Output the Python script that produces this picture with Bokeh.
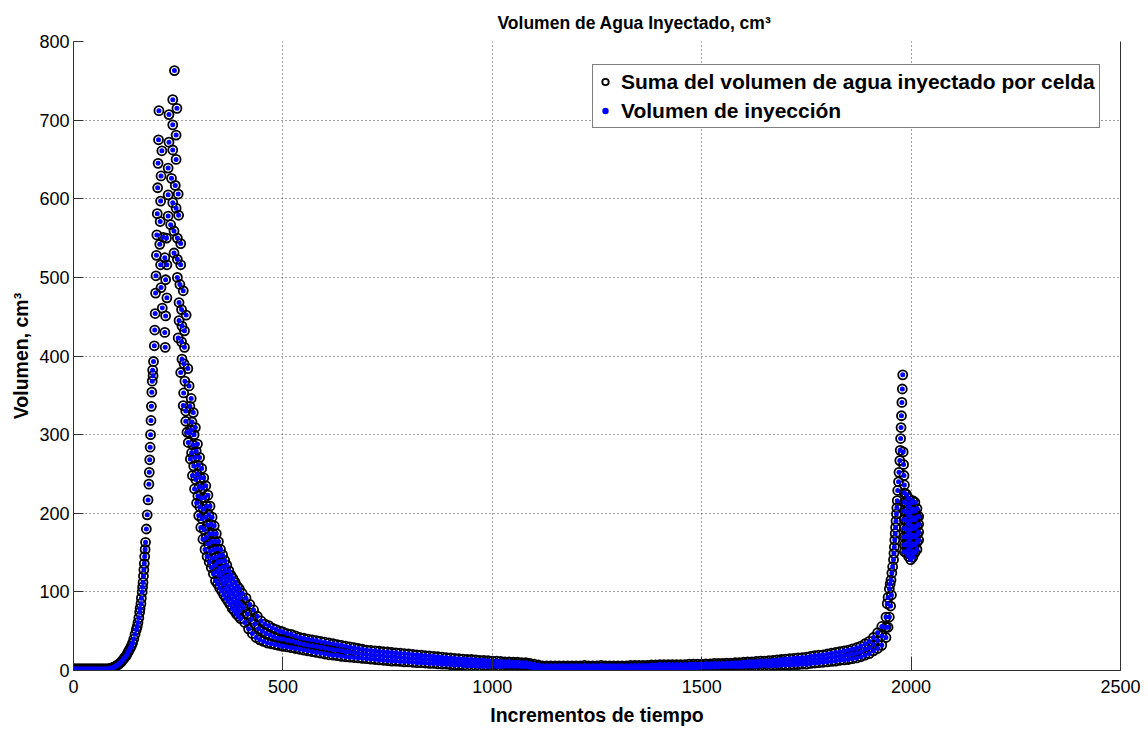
from bokeh.plotting import figure
from bokeh.models import Range1d, LinearAxis, Legend, LegendItem, FixedTicker
from bokeh.embed import file_html
from bokeh.resources import INLINE

# ---------------- data ----------------
subida_x = [0, 6, 12, 18, 24, 30, 36, 42, 48, 54, 60, 66, 72, 78, 84, 90, 96, 102, 108, 114,
            120, 126, 132, 138, 144, 150, 154, 158, 161, 164, 166, 168, 170, 172, 174, 176, 178,
            180, 181, 182, 183, 184, 185, 186, 187, 188, 189]
subida_y = [2, 2, 2, 2, 2, 2, 2, 2, 2, 2, 2, 2, 2, 2, 2, 3, 4, 6, 8, 11,
            15, 19, 25, 31, 40, 52, 61, 74, 85, 100, 112, 128, 145, 163, 180, 198, 217,
            237, 252, 268, 284, 300, 318, 336, 354, 368, 382]
subida2_x = [3, 9, 15, 21, 27, 33, 39, 45, 51, 57, 63, 69, 75, 81, 87, 93, 99, 105, 111,
             117, 123, 129, 135, 141, 147, 152, 156, 159, 162, 165, 167, 169, 171]
subida2_y = [2, 2, 2, 2, 2, 2, 2, 2, 2, 2, 2, 2, 2, 2, 2.5, 3.5, 5, 7, 9.5,
             13, 17, 22, 28, 35, 46, 56, 67, 79, 92, 106, 120, 136, 154]

pico_x = [190, 191, 193, 194, 195, 196, 197, 198, 199, 200, 201, 202, 203, 204,
          206, 207, 208, 209, 211, 208, 209, 212, 220, 218, 219,
          214, 218, 223, 220, 223, 226, 226, 228, 228, 226, 222,
          241, 237, 247, 237, 245, 237, 245, 234, 243, 250, 237, 245, 251, 232, 240, 248,
          256, 240, 248, 256, 248, 254, 262, 252, 258, 269, 252, 259, 265, 250, 258, 265,
          259, 264, 273, 256]
pico_y = [375, 393, 413, 433, 454, 480, 502, 528, 554, 581, 614, 645, 675, 712,
          542, 571, 597, 629, 661, 516, 487, 461, 451, 430, 411,
          551, 525, 516, 497, 474, 605, 639, 672, 707, 578, 550,
          763, 726, 715, 694, 681, 662, 650, 626, 617, 606, 595, 588, 579, 567, 559, 550,
          543, 531, 523, 516, 500, 491, 483, 468, 459, 452, 445, 438, 432, 423, 418, 411,
          396, 390, 384, 379]

caida_x = [262, 263, 266, 268, 268, 271, 274,
           276, 278, 280, 282, 284, 286, 288, 290, 292, 294, 296, 298, 300, 302, 304, 306,
           308, 310, 312, 314, 316, 318, 320, 322, 324, 326, 328, 330, 332, 334, 336, 338,
           340, 342, 344, 346, 348, 350, 352, 354, 356, 358, 360, 362, 364, 366, 368, 370,
           372, 374, 376, 378, 380, 382, 384, 386, 388, 390, 392, 394, 396, 398, 400,
           403, 406, 409, 412, 415, 418, 421, 424, 427, 430, 433, 436, 439, 442, 445, 448,
           451, 454, 457, 460, 463, 466, 469, 472, 475, 478, 481, 484, 487, 490, 493, 496, 499]
caida_y = [337, 353, 368, 330, 317, 303, 290,
           362, 336, 306, 277, 248, 328, 300, 271, 243, 213, 288, 261, 234, 208, 182, 257,
           232, 205, 179, 154, 235, 209, 185, 161, 138, 209, 186, 164, 143, 123, 184, 164,
           144, 126, 110, 164, 146, 130, 115, 101, 147, 132, 118, 104, 92, 134, 120, 107,
           96, 84, 121, 109, 98, 87, 76, 112, 101, 89, 79, 69, 104, 93, 83,
           98, 80, 61, 92, 72, 53, 84, 65, 47, 77, 59, 42, 69, 53, 39, 63,
           50, 37, 59, 47, 35, 57, 45, 34, 54, 43, 33, 52, 41, 32, 50, 40, 31]

caida2_x = [277, 279, 281, 283, 285, 287, 289, 291, 293, 295, 297, 299, 301, 303, 305, 307,
            309, 311, 313, 315, 317, 319, 321, 323, 325, 327, 329, 331, 333, 335, 337, 339,
            341, 343, 345, 347, 349, 351, 353, 355, 357, 359, 361, 363, 365, 367, 369, 371,
            373, 375, 377, 379, 381, 383, 385, 387, 389, 391, 393, 395, 397, 399]
caida2_y = [302, 269, 346, 316, 287, 260, 231, 309, 279, 250, 222, 197, 271, 245, 219, 193,
            167, 245, 220, 195, 169, 145, 223, 198, 174, 152, 131, 195, 174, 154, 134, 114,
            174, 155, 138, 121, 105, 154, 139, 124, 110, 96, 140, 127, 113, 100, 88, 127,
            114, 102, 91, 79, 117, 105, 94, 83, 72, 107, 97, 86, 76, 66]

cola_x = [500, 510, 520, 530, 540, 550, 560, 570, 580, 590,
          600, 610, 620, 630, 640, 650, 660, 670, 680, 690,
          700, 710, 720, 730, 740, 750, 760, 770, 780, 790,
          800, 810, 820, 830, 840, 850, 860, 870, 880, 890,
          900, 910, 920, 930, 940, 950, 960, 970, 980, 990,
          1000, 1010, 1020, 1030, 1040, 1050, 1060, 1070, 1080, 1090,
          1100, 1110, 1120, 1130, 1140, 1150, 1160, 1170, 1180, 1190,
          1200, 1210, 1220, 1230, 1240, 1250, 1260, 1270, 1280, 1290,
          1300, 1310, 1320, 1330, 1340, 1350, 1360, 1370, 1380, 1390,
          1400, 1410, 1420, 1430, 1440, 1450, 1460, 1470, 1480, 1490,
          1500, 1510, 1520, 1530, 1540, 1550, 1560, 1570, 1580, 1590,
          1600, 1610, 1620, 1630, 1640, 1650, 1660, 1670, 1680, 1690,
          1700, 1710, 1720, 1730, 1740, 1750, 1760, 1770, 1780, 1790,
          1800, 1810, 1820, 1830, 1840, 1850, 1860, 1870, 1880, 1890,
          1900, 1910, 1920, 1930, 1940]
cola_sup = [49, 47, 46, 44, 42, 41, 40, 39, 38, 37,
            36, 35, 34, 33, 32, 31, 30, 29, 28, 27,
            26, 25.5, 25, 24.5, 24, 23.5, 23, 22.5, 22, 21.5,
            21, 20.5, 20, 19.5, 19, 18.5, 18, 17.5, 17, 16.5,
            16, 15.5, 15, 14.5, 14, 14, 13.5, 13, 13, 12.5,
            12, 12, 11.5, 11, 11, 10.5, 10.5, 10, 10, 9,
            8, 7, 6, 6, 6, 6, 6, 6, 6, 6,
            6, 6, 6.5, 6, 6, 6, 6.5, 6, 6, 6,
            6, 6, 6, 6.5, 6.5, 6.5, 6.5, 6.5, 7, 7,
            7.5, 7.5, 7.5, 7.5, 7.5, 7.5, 7.5, 8, 8, 8,
            8, 8.5, 8.5, 9, 9, 9, 9.5, 9.5, 10, 10,
            10.5, 11, 11, 11.5, 12, 12, 12.5, 13, 13.5, 14,
            14.5, 15, 15.5, 16, 16.5, 17, 18, 19, 19.5, 20,
            21, 22, 23, 24, 25, 26, 27.5, 29, 31, 34,
            37, 42, 48, 56, 68]
cola_med = [40, 38.5, 37.5, 36, 34.5, 33.5, 32.5, 31.5, 30.5, 29.5,
            28.5, 27.5, 26.5, 26, 25, 24, 23.5, 23, 22, 21,
            20.5, 20, 19.5, 19, 18.5, 18, 17.5, 17, 17, 16,
            16, 15.5, 15, 15, 14, 14, 13.5, 13, 12.5, 12,
            12, 11, 11, 10.5, 10, 10, 10, 9, 9, 9,
            8.5, 8.5, 8, 8, 8, 8, 8, 7.5, 7.5, 6.5,
            5.5, 5, 4, 4, 4, 4, 4, 4, 4, 4,
            4, 4, 4, 4, 4, 4, 4, 4, 4, 4,
            4, 4, 4, 4.5, 4.5, 4.5, 4.5, 4.5, 5, 5,
            5, 5, 5, 5, 5, 5, 5, 5.5, 5.5, 5.5,
            6, 6, 6, 6.5, 6.5, 7, 7, 7, 7.5, 7.5,
            8, 8, 8, 8.5, 9, 9, 9, 10, 10, 10.5,
            11, 11, 11.5, 12, 12, 12.5, 13.5, 14, 15, 15,
            16, 17, 17.5, 18.5, 19, 20, 21, 22.5, 24, 27,
            29, 33, 38, 44, 55]
cola_inf = [31, 30, 29, 28, 27, 26, 25, 24, 23, 22,
            21, 20, 19.5, 19, 18, 17.5, 17, 16.5, 16, 15.5,
            15, 14.5, 14, 13.5, 13, 12.5, 12, 12, 11.5, 11,
            11, 10.5, 10, 10, 9.5, 9, 9, 8.5, 8, 8,
            7.5, 7, 7, 6.5, 6, 6, 6, 5.5, 5.5, 5,
            5, 5, 5, 5.5, 5.5, 5.5, 5.5, 5, 5, 4,
            3, 2.5, 2, 2, 2, 2, 2, 2, 2, 2,
            2, 2, 2, 2, 2, 2, 2, 2, 2, 2,
            2, 2, 2, 2.5, 2.5, 2.5, 2.5, 2.5, 3, 3,
            3, 3, 3, 3, 3, 3, 3, 3, 3.5, 3.5,
            4, 4, 4, 4.5, 4.5, 5, 5, 5, 5, 5,
            5, 5.5, 5.5, 5.5, 6, 6, 6, 6.5, 6.5, 7,
            7, 7, 7.5, 7.5, 8, 8, 9, 9.5, 10, 10.5,
            11, 11.5, 12, 13, 13.5, 14, 15, 16, 17.5, 19.5,
            21.5, 25, 28, 32, 42]

final_x = [1943, 1945, 1948, 1950, 1952, 1954, 1956, 1958, 1959, 1960, 1961, 1962, 1963,
           1964, 1965, 1966, 1967, 1968, 1970, 1971, 1973, 1974, 1975, 1976, 1977, 1978,
           1979, 1980, 1981, 1982, 1983, 1945, 1948, 1951, 1953,
           1984, 1984, 1984, 1984, 1984, 1984, 1984, 1984, 1984,
           1989, 1989, 1989, 1989, 1989, 1989, 1989, 1989,
           1994, 1994, 1994, 1994, 1994, 1994, 1994, 1994,
           1999, 1999, 1999, 1999, 1999, 1999, 1999, 1999,
           2004, 2004, 2004, 2004, 2004, 2004, 2004, 2004,
           2009, 2009, 2009, 2009, 2009, 2009, 2009,
           2014, 2014, 2014, 2014, 2014, 2014,
           2018, 2018, 2018, 2018]
final_y = [85, 93, 104, 110, 115, 124, 132, 141, 149, 157, 166, 174, 182,
           190, 199, 207, 216, 229, 240, 252, 267, 280, 295, 309, 324, 341,
           358, 376, 278, 262, 248, 55, 68, 82, 96,
           236, 226, 214, 203, 192, 181, 170, 160, 151,
           224, 213, 202, 191, 180, 170, 160, 150,
           219, 208, 197, 186, 175, 164, 154, 145,
           213, 202, 191, 180, 169, 158, 148, 141,
           216, 205, 194, 183, 172, 161, 151, 144,
           214, 203, 192, 181, 170, 160, 150,
           206, 195, 184, 173, 163, 154,
           196, 186, 176, 166]

incrementos = (subida_x + subida2_x + pico_x + caida_x + caida2_x
               + cola_x + cola_x + cola_x + final_x)
suma_volumen_celda = (subida_y + subida2_y + pico_y + caida_y + caida2_y
                      + cola_sup + cola_med + cola_inf + final_y)
volumen_inyeccion = list(suma_volumen_celda)

x_ticks = [0, 500, 1000, 1500, 2000, 2500]
y_ticks = [0, 100, 200, 300, 400, 500, 600, 700, 800]

FONT = "Liberation Sans"

p = figure(width=1148, height=735, output_backend="svg", toolbar_location=None,
           x_range=Range1d(0, 2500), y_range=Range1d(0, 800),
           min_border_left=73, min_border_right=28, min_border_top=41, min_border_bottom=65,
           background_fill_color="white", border_fill_color="white")
p.outline_line_color = None

p.title.text = "Volumen de Agua Inyectado, cm³"
p.title.align = "left"
p.title.offset = 424
p.title.text_font = FONT
p.title.text_font_size = "17.5px"
p.title.text_font_style = "bold"
p.title.text_color = "black"
p.title.standoff = 18

r_circ = p.scatter(incrementos, suma_volumen_celda, marker="circle", size=9,
                   fill_color=None, line_color="black", line_width=1.8)
r_dot = p.scatter(incrementos, volumen_inyeccion, marker="circle", size=5,
                  fill_color="#0000FF", line_color=None)

for ax, ticks, tin in ((p.xaxis[0], x_ticks, 14), (p.yaxis[0], y_ticks, 10)):
    ax.ticker = FixedTicker(ticks=ticks)
    ax.major_tick_in = tin
    ax.major_tick_out = 0
    ax.minor_tick_line_color = None
    ax.axis_line_color = "#303030"
    ax.major_tick_line_color = "#303030"
    ax.major_label_text_font = FONT
    ax.major_label_text_font_size = "18px"
    ax.major_label_text_color = "black"
    ax.axis_label_text_font = FONT
    ax.axis_label_text_font_size = "19.5px"
    ax.axis_label_text_font_style = "bold"
    ax.axis_label_text_color = "black"

p.xaxis.axis_label = "Incrementos de tiempo"
p.yaxis.axis_label = "Volumen, cm³"
p.xaxis.major_label_standoff = 9
p.xaxis.axis_label_standoff = 8
p.yaxis.major_label_standoff = 4
p.yaxis.axis_label_standoff = 4

right = LinearAxis(ticker=FixedTicker(ticks=[]), major_tick_line_color=None,
                   minor_tick_line_color=None, axis_line_color="#303030")
p.add_layout(right, "right")

for g, ticks in ((p.xgrid[0], x_ticks), (p.ygrid[0], y_ticks)):
    g.ticker = FixedTicker(ticks=ticks)
    g.grid_line_color = "#404040"
    g.grid_line_dash = "1 3"
    g.grid_line_width = 1

legend = Legend(items=[LegendItem(label="Suma del volumen de agua inyectado por celda", renderers=[r_circ]),
                       LegendItem(label="Volumen de inyección", renderers=[r_dot])],
                location=(519, 542))
legend.label_text_font = FONT
legend.label_text_font_size = "21px"
legend.label_text_font_style = "bold"
legend.label_text_color = "black"
legend.border_line_color = "black"
legend.border_line_width = 1
legend.background_fill_color = "white"
legend.background_fill_alpha = 1
legend.padding = 4
legend.spacing = 4
legend.glyph_width = 16
legend.glyph_height = 25
legend.label_standoff = 8
legend.label_height = 25
legend.margin = 0
p.add_layout(legend, "center")

open("out.html", "w").write(file_html(p, INLINE))
